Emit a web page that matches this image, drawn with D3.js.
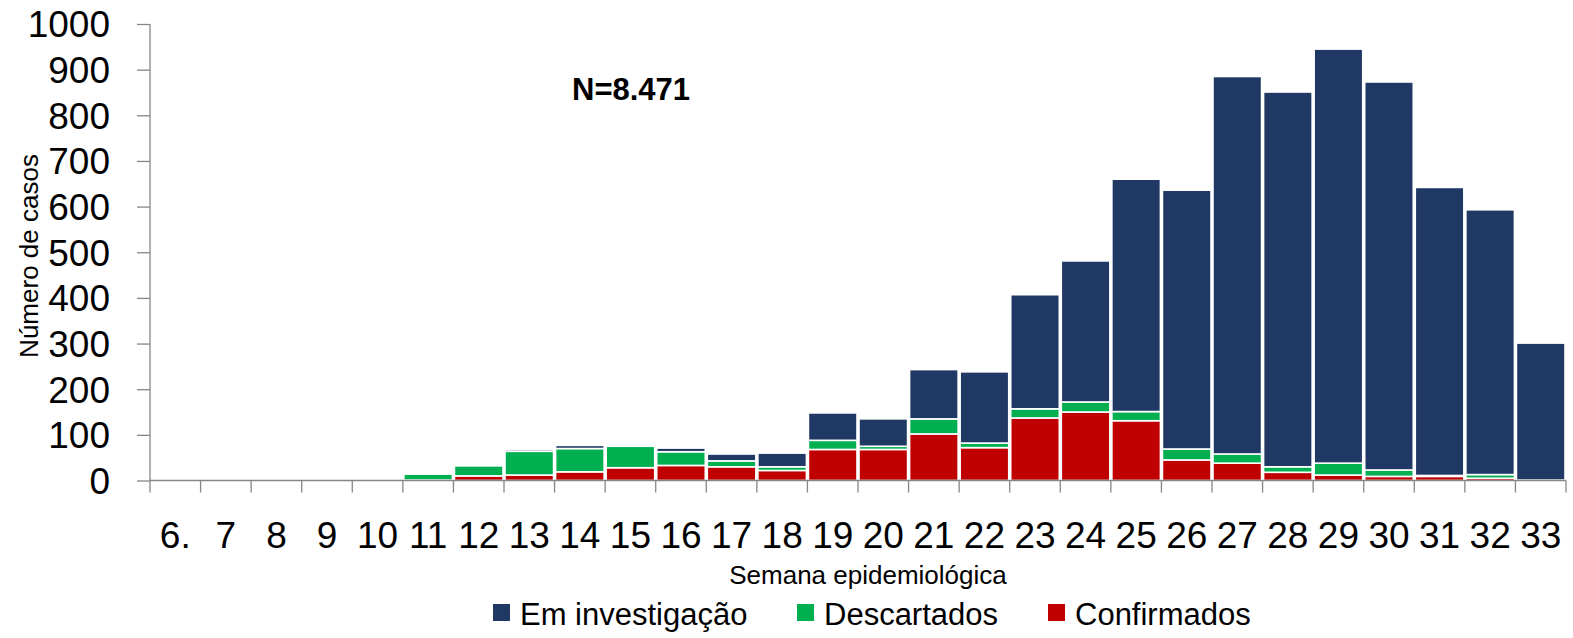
<!DOCTYPE html>
<html><head><meta charset="utf-8">
<script src="https://cdn.jsdelivr.net/npm/d3@7"></script>
<style>
body{margin:0;background:#fff;}
svg text{font-family:"Liberation Sans",Arial,sans-serif;fill:#000;}
</style></head>
<body><svg id="c" width="1573" height="638"></svg>
<script>
const weeks = ["6.","7","8","9","10","11","12","13","14","15","16","17","18","19","20","21","22","23","24","25","26","27","28","29","30","31","32","33"];
const confirmados   = [0,0,0,0,3,1,10,12,19,28,33,30,22,68,68,102,72,137,150,131,45,38,18,12,9,9,5,1];
const descartados   = [0,0,0,0,0,13,22,52,51,47,30,13,8,20,7,33,10,20,22,20,24,20,12,26,14,2,8,0];
const investigacao  = [0,0,0,0,0,0,0,4,7,0,8,15,30,60,60,108,156,250,309,509,567,827,821,907,850,631,580,300];
const yTicks = [0,100,200,300,400,500,600,700,800,900,1000];
const seriesNames = ["Confirmados","Descartados","Em investigação"];
const legendOrder = ["Em investigação","Descartados","Confirmados"];
const colors = {"Confirmados":"#C00000","Descartados":"#00B050","Em investigação":"#203864"};

const svg = d3.select("#c");
const x = d3.scaleBand().domain(weeks).range([150,1566]).paddingInner(0).paddingOuter(0);
const y = d3.scaleLinear().domain([0,1000]).range([480.5,24]);

const rows = weeks.map((w,i)=>({week:w,"Confirmados":confirmados[i],"Descartados":descartados[i],"Em investigação":investigacao[i]}));
const stack = d3.stack().keys(seriesNames)(rows);

svg.append("g").selectAll("g").data(stack).join("g")
  .attr("fill",d=>colors[d.key])
  .selectAll("rect").data(d=>d.filter(p=>p[1]-p[0]>0)).join("rect")
  .attr("x",d=>x(d.data.week)+1)
  .attr("width",x.bandwidth()-2)
  .attr("y",d=>y(d[1]))
  .attr("height",d=>Math.max(0,y(d[0])-y(d[1])))
  .attr("stroke","#fff").attr("stroke-width",1.6);

// y axis
const yAxis = d3.axisLeft(y).tickValues(yTicks).tickSize(13).tickPadding(27).tickFormat(d3.format("d"));
const gy = svg.append("g").attr("transform","translate(150,0)").call(yAxis);
gy.select(".domain").attr("stroke","#868686").attr("stroke-width",1.3).attr("d","M-0,24V480.5");
gy.selectAll(".tick line").attr("stroke","#868686").attr("stroke-width",1.3);
gy.selectAll(".tick text").style("font-size","37px").attr("dy","0.35em");

// x axis
const gx = svg.append("g").attr("transform","translate(0,480.5)");
gx.append("line").attr("x1",150).attr("x2",1566).attr("stroke","#868686").attr("stroke-width",1.3);
const bounds = weeks.map(w=>x(w)).concat([x(weeks[weeks.length-1])+x.bandwidth()]);
gx.selectAll("line.t").data(bounds).join("line").attr("class","t")
  .attr("x1",d=>d).attr("x2",d=>d).attr("y1",0).attr("y2",12)
  .attr("stroke","#868686").attr("stroke-width",1.3);
gx.selectAll("text").data(weeks).join("text")
  .attr("x",d=>x(d)+x.bandwidth()/2).attr("y",67)
  .attr("text-anchor","middle").style("font-size","37px").text(d=>d);

// titles
svg.append("text").attr("x",868).attr("y",584).attr("text-anchor","middle").style("font-size","26px").text("Semana epidemiológica");
svg.append("text").attr("transform","translate(38,256) rotate(-90)").attr("text-anchor","middle").style("font-size","26px").text("Número de casos");
svg.append("text").attr("x",572).attr("y",100).style("font-size","31px").style("font-weight","bold").text("N=8.471");

// legend
const legX = {"Em investigação":493,"Descartados":797,"Confirmados":1048};
const lg = svg.append("g");
legendOrder.forEach(k=>{
  lg.append("rect").attr("x",legX[k]).attr("y",604).attr("width",17).attr("height",17).attr("fill",colors[k]);
  lg.append("text").attr("x",legX[k]+27).attr("y",625).style("font-size","31px").text(k);
});
</script></body></html>
